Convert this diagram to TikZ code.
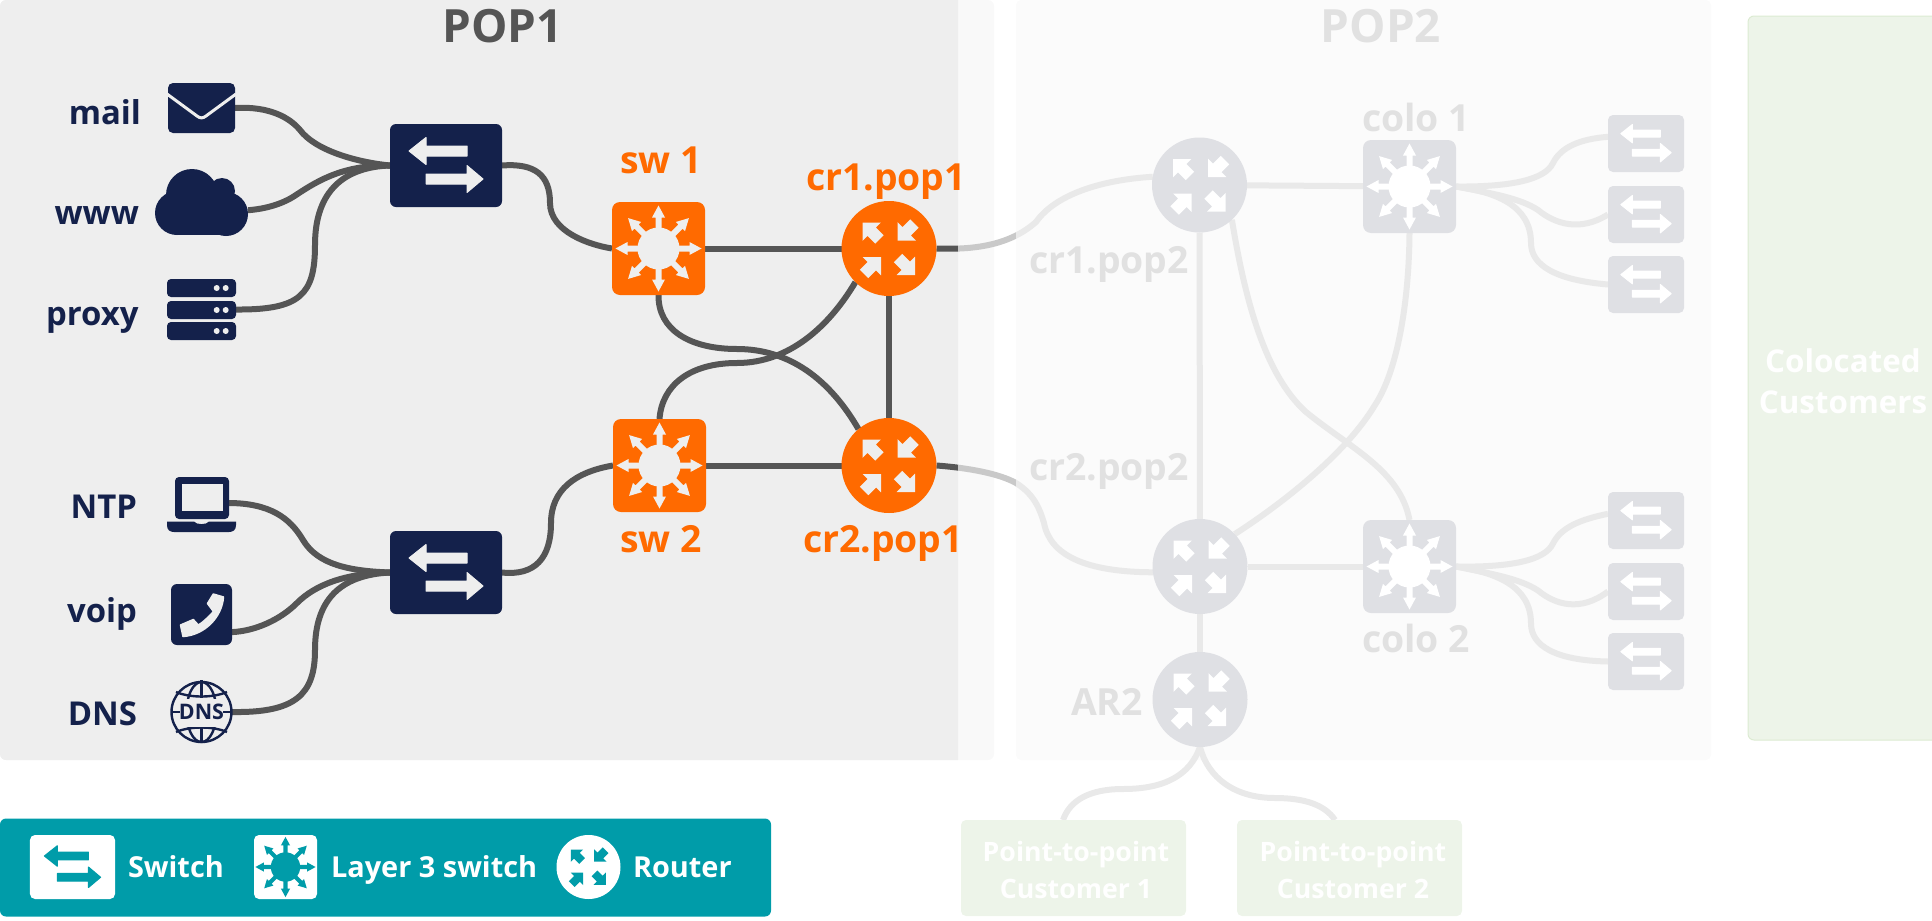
\documentclass[tikz,border=0pt]{standalone}
\usepackage{fontspec}
\setmainfont{Open Sans}
\definecolor{navy}{HTML}{14214B}
\definecolor{orng}{HTML}{FF6A00}
\definecolor{teal2}{HTML}{009CA9}
\definecolor{wdark}{HTML}{555555}
\definecolor{wmid}{HTML}{C9C9C9}
\definecolor{wlight}{HTML}{E9E9E9}
\definecolor{nlight}{HTML}{DFE0E4}
\definecolor{pone}{HTML}{EEEEEE}
\definecolor{poneb}{HTML}{F9F9F9}
\definecolor{ptwo}{HTML}{FBFBFB}
\definecolor{grn}{HTML}{EDF4E9}
\definecolor{grnb}{HTML}{DCEBD2}
\definecolor{lblgray}{HTML}{E1E1E1}
\definecolor{titlegray}{HTML}{555555}
\pgfdeclarelayer{panels}
\pgfdeclarelayer{wires}
\pgfsetlayers{panels,wires,main}
\tikzset{
  swbox/.style={rectangle,rounded corners=6bp,minimum width=112bp,minimum height=83bp,inner sep=0pt,outer sep=0pt,fill=navy},
  swsmall/.style={rectangle,rounded corners=5bp,minimum width=76bp,minimum height=57bp,inner sep=0pt,outer sep=0pt,fill=nlight},
  lthree/.style={rectangle,rounded corners=8bp,minimum width=93bp,minimum height=93bp,inner sep=0pt,outer sep=0pt,fill=#1},
  router/.style={circle,minimum size=95bp,inner sep=0pt,outer sep=0pt,fill=#1},
  icon/.style={rectangle,inner sep=0pt,outer sep=0pt,minimum width=#1},
  wiredark/.style={draw=wdark,line width=6bp},
  wirelight/.style={draw=wlight,line width=6bp},
  lbl/.style={font=\fontsize{33}{40}\selectfont\bfseries,text=navy,inner sep=0pt,outer sep=0pt,anchor=base east},
  olbl/.style={font=\fontsize{37.5}{42}\selectfont\bfseries,text=orng,inner sep=0pt,outer sep=0pt,anchor=base west},
  glbl/.style={font=\fontsize{37.5}{42}\selectfont\bfseries,text=lblgray,inner sep=0pt,outer sep=0pt,anchor=base west},
  ttl/.style={font=\fontsize{46}{50}\selectfont\bfseries,inner sep=0pt,outer sep=0pt,anchor=base},
  legtxt/.style={font=\fontsize{29}{36}\selectfont\bfseries,text=white,inner sep=0pt,outer sep=0pt,anchor=base west},
  custtxt/.style={font=\fontsize{26.8}{36.5}\selectfont\bfseries,text=white,inner sep=0pt,outer sep=0pt,align=center},
  custbox/.style={rectangle,rounded corners=5bp,fill=grn,minimum width=225bp,minimum height=96bp,inner sep=0pt,outer sep=0pt},
}
\newcommand\swglyph[3]{%
  \begin{scope}[shift={(#1.center)},scale=#2]
    \fill[#3,draw=#3,line width=1pt,line join=round] (-37,-14.5) -- (-20,-28) -- (-20,-19.5) -- (21,-19.5) -- (21,-9.5) -- (-20,-9.5) -- (-20,-1) -- cycle;
    \fill[#3,draw=#3,line width=1pt,line join=round] (37,13.5) -- (21,27) -- (21,18.5) -- (-20,18.5) -- (-20,8.5) -- (21,8.5) -- (21,0) -- cycle;
  \end{scope}}
\newcommand\rarrow[4]{\fill[#4,shift={(#1,#2)},rotate=#3] (0,0) -- (-13,13) -- (-13,6) -- (-24,6) -- (-24,-6) -- (-13,-6) -- (-13,-13) -- cycle;}
\newcommand\rglyph[3]{%
  \begin{scope}[shift={(#1.center)},scale=#2]
    \rarrow{-26.5}{-26}{135}{#3}
    \rarrow{8.5}{-8}{225}{#3}
    \rarrow{-8}{8.5}{45}{#3}
    \rarrow{26}{26.5}{-45}{#3}
  \end{scope}}
\newcommand\lglyph[3]{%
  \begin{scope}[shift={(#1.center)},scale=#2]
    \foreach \a in {0,45,...,315}{
      \fill[#3,rotate=\a] (43,0) -- (31,6.5) -- (31,3) -- (18,3) -- (18,-3) -- (31,-3) -- (31,-6.5) -- cycle;
    }
    \fill[#3] (0,0) circle (21);
  \end{scope}}
\newcommand\colofan[4]{%
  \draw[wirelight] (#1.east) .. controls (1510,187+#4) and (1545,180+#4) .. (1553,163+#4) .. controls (1561,147+#4) and (1580,139+#4) .. (#2.170);
  \draw[wirelight] (#1.east) .. controls (1490,193+#4) and (1520,198+#4) .. (1538,210+#4) .. controls (1555,224+#4) and (1580,232+#4) .. (#3.west);
}
\newcommand\colofanb[3]{%
  \draw[wirelight] (#1.east) .. controls (1495,192+#3) and (1531,205+#3) .. (1531,243+#3) .. controls (1531,265+#3) and (1555,280+#3) .. (#2.west);
}
\begin{document}
\begin{tikzpicture}[x=1bp,y=-1bp]
\useasboundingbox (0,0) rectangle (1932,921);
% ---- icons and nodes
\node[swbox] (s1) at (446,165.5) {};
\node[swbox] (s2) at (446,572.5) {};
\swglyph{s1}{1}{pone}
\swglyph{s2}{1}{pone}
\node[lthree=orng] (l3a) at (658.5,248.5) {};
\node[lthree=orng] (l3b) at (659.5,465.5) {};
\lglyph{l3a}{1}{pone}
\lglyph{l3b}{1}{pone}
\node[router=orng] (r1) at (889,248.5) {};
\node[router=orng] (r2) at (889,465.5) {};
\rglyph{r1}{1}{pone}
\rglyph{r2}{1}{pone}
\node[router=nlight] (c1) at (1199.5,185) {};
\node[router=nlight] (c2) at (1200,566.5) {};
\node[router=nlight] (ar) at (1200,699.5) {};
\rglyph{c1}{1}{white}
\rglyph{c2}{1}{white}
\rglyph{ar}{1}{white}
\node[lthree=nlight] (cl1) at (1409.5,186.5) {};
\node[lthree=nlight] (cl2) at (1409.5,566.5) {};
\lglyph{cl1}{1}{white}
\lglyph{cl2}{1}{white}
\node[swsmall] (a1) at (1646,143.5) {};
\node[swsmall] (a2) at (1646,214.5) {};
\node[swsmall] (a3) at (1646,284.5) {};
\node[swsmall] (b1) at (1646,520.5) {};
\node[swsmall] (b2) at (1646,591.5) {};
\node[swsmall] (b3) at (1646,661.5) {};
\foreach \n in {a1,a2,a3,b1,b2,b3}{\swglyph{\n}{0.68}{white}}
% mail
\node[rectangle,rounded corners=5bp,fill=navy,minimum width=67bp,minimum height=50bp,inner sep=0pt,outer sep=0pt] (mailic) at (201.5,108) {};
\draw[pone,line width=3bp,line join=round,line cap=butt] (167,94) -- (197,116) .. controls (200,118.5) and (203,118.5) .. (206,116) -- (236,94);
% cloud
\node[icon=93bp,minimum height=66bp] (cloud) at (201.5,202) {};
\fill[navy] (192,195) circle (26);
\fill[navy] (177,213) circle (22);
\fill[navy] (226,214) circle (22);
\fill[navy] (222,191) circle (13);
\fill[navy] (177,200) rectangle (226,235);
% proxy
\node[icon=69bp,minimum height=61bp] (proxyic) at (201.5,309.5) {};
\foreach \y in {279,301,322}{
  \fill[navy,rounded corners=4bp] (167,\y) rectangle (236,\y+18);
  \fill[pone] (216.7,\y+9) circle (3);
  \fill[pone] (225.7,\y+9) circle (3);
}
% laptop
\node[icon=69bp,minimum height=55bp] (laptop) at (201.5,504.5) {};
\coordinate (lapout) at (228,503);
\fill[navy,rounded corners=4bp] (175,477) rectangle (229,519);
\fill[pone] (181.7,484) rectangle (222.7,511);
\fill[navy] (167,521.5) -- (194,521.5) .. controls (196,525) and (207,525) .. (209,521.5) -- (236,521.5) -- (236,525) .. controls (236,530) and (233,532) .. (229,532) -- (174,532) .. controls (170,532) and (167,530) .. (167,525) -- cycle;
% phone
\node[rectangle,rounded corners=6bp,fill=navy,minimum width=61bp,minimum height=61bp,inner sep=0pt,outer sep=0pt] (phone) at (201.5,614.5) {};
\fill[pone,draw=pone,line width=1.5bp,line join=round] (213.3,594) -- (223.5,597) .. controls (222,617) and (205,635) .. (183,636.5) -- (180.5,625) -- (193.3,619.5) -- (198.3,625) .. controls (205,621) and (210,615) .. (213.5,611.5) -- (207.5,603.5) -- cycle;
% DNS globe
\node[circle,minimum size=61bp,inner sep=0pt,outer sep=0pt] (globe) at (201.5,712) {};
\begin{scope}[navy,line width=2.4bp]
  \draw (201.5,712) circle (30);
  \begin{scope}
    \clip (165,675) rectangle (238,698);
    \draw (201.5,712) ellipse (15 and 30);
    \draw (201.5,680) -- (201.5,698);
    \draw (176,692) .. controls (190,698) and (213,698) .. (227,692);
  \end{scope}
  \begin{scope}
    \clip (165,727) rectangle (238,750);
    \draw (201.5,712) ellipse (15 and 30);
    \draw (201.5,727) -- (201.5,742);
    \draw (176,732) .. controls (190,726) and (213,726) .. (227,732);
  \end{scope}
  \draw (171,712) -- (180,712);
  \draw (223,712) -- (232,712);
\end{scope}
\node[font=\fontsize{21.5}{24}\selectfont\bfseries,text=navy,inner sep=0pt] (dnstxt) at (201.5,712) {DNS};
% boxes
\node[custbox] (p1) at (1073.5,868) {};
\node[custbox] (p2) at (1349.5,868) {};
\node[custtxt] (p1t) at (1076,870) {Point-to-point\\Customer 1};
\node[custtxt] (p2t) at (1353,870) {Point-to-point\\Customer 2};
% labels
\node[lbl] (tmail) at (141,124) {mail};
\node[lbl] (twww) at (139,224) {www};
\node[lbl] (tproxy) at (138.5,325) {proxy};
\node[lbl] (tntp) at (137,518) {NTP};
\node[lbl] (tvoip) at (137,622) {voip};
\node[lbl] (tdns) at (137,725) {DNS};
\node[olbl] (tsw1) at (620,173) {sw 1};
\node[olbl] (tsw2) at (620,552) {sw 2};
\node[olbl] (tcr1) at (806,190) {cr1.pop1};
\node[olbl] (tcr2) at (803,552) {cr2.pop1};
\node[glbl] (tc1) at (1029,273) {cr1.pop2};
\node[glbl] (tc2) at (1029,480) {cr2.pop2};
\node[glbl] (tcolo1) at (1362,131) {colo 1};
\node[glbl] (tcolo2) at (1362,652) {colo 2};
\node[glbl] (tar) at (1071,715) {AR2};
\node[ttl,text=titlegray] (pop1) at (502.5,42) {POP1};
\node[ttl,text=lblgray] (pop2) at (1381,42) {POP2};
\node[font=\fontsize{31.5}{41}\selectfont\bfseries,text=white,inner sep=0pt,align=center] (colo) at (1843,381) {Colocated\\Customers};
% legend
\node[rectangle,rounded corners=5bp,fill=white,minimum width=85bp,minimum height=64bp,inner sep=0pt,outer sep=0pt] (lgs) at (72.5,867) {};
\node[rectangle,rounded corners=5bp,fill=white,minimum width=63bp,minimum height=64bp,inner sep=0pt,outer sep=0pt] (lgl) at (285.5,867) {};
\node[circle,fill=white,minimum size=64bp,inner sep=0pt,outer sep=0pt] (lgr) at (588.5,867) {};
\swglyph{lgs}{0.76}{teal2}
\lglyph{lgl}{0.7}{teal2}
\rglyph{lgr}{0.67}{teal2}
\node[legtxt] (tlgs) at (128,877) {Switch};
\node[legtxt] (tlgl) at (331,877) {Layer 3 switch};
\node[legtxt] (tlgr) at (633,877) {Router};
% ---- wires
\begin{pgfonlayer}{wires}
  \draw[wiredark] (mailic.east) .. controls (270,106) and (290,118) .. (300,130) .. controls (315,150) and (355,162) .. (s1.west);
  \draw[wiredark] (cloud.-10) .. controls (265,209) and (283,204) .. (296,195) .. controls (320,179) and (345,165) .. (s1.west);
  \draw[wiredark] (proxyic.east) .. controls (300,310) and (315,295) .. (315,245) .. controls (315,190) and (345,167) .. (s1.west);
  \draw[wiredark] (s1.east) .. controls (535,163) and (550,175) .. (550,203) .. controls (550,232) and (590,245) .. (l3a.west);
  \draw[wiredark] (lapout) .. controls (270,503) and (290,518) .. (303,540) .. controls (318,565) and (350,571) .. (s2.west);
  \draw[wiredark] (phone.-30) .. controls (255,631) and (280,620) .. (297,603) .. controls (315,585) and (345,573) .. (s2.west);
  \draw[wiredark] (globe.east) .. controls (295,713) and (315,695) .. (315,650) .. controls (315,600) and (340,575) .. (s2.west);
  \draw[wiredark] (s2.east) .. controls (535,576) and (551,558) .. (551,523) .. controls (551,490) and (575,472) .. (l3b.west);
  \draw[wiredark] (l3a) -- (r1);
  \draw[wiredark] (l3b) -- (r2);
  \draw[wiredark] (r1) -- (r2);
  \draw[wiredark] (l3a.south) .. controls (658,330) and (690,349) .. (737,349) .. controls (790,349) and (830,380) .. (r2.130);
  \draw[wiredark] (l3b.north) .. controls (662,385) and (690,363) .. (737,363) .. controls (790,363) and (830,325) .. (r1.225);
  % links crossing the fade
  \foreach \xa/\xb/\col in {900/958/wdark,958/1016/wmid,1016/1300/wlight}{
    \begin{scope}
      \clip (\xa,100) rectangle (\xb,650);
      \draw[draw=\col,line width=6bp] (r1.east) .. controls (975,250) and (1010,245) .. (1036,222) .. controls (1055,195) and (1100,180) .. (c1.170);
      \draw[draw=\col,line width=6bp] (r2.east) .. controls (970,468) and (1000,474) .. (1016,483) .. controls (1035,495) and (1040,510) .. (1044,523) .. controls (1050,555) and (1085,572) .. (c2.187);
    \end{scope}
  }
  \draw[wirelight] (c1) -- (c2);
  \draw[wirelight] (c2) -- (ar);
  \draw[wirelight] (c1) -- (cl1);
  \draw[wirelight] (c2) -- (cl2);
  \draw[wirelight] (c1.-47) .. controls (1245,300) and (1265,375) .. (1306,412) .. controls (1350,448) and (1400,470) .. (cl2.north);
  \draw[wirelight] (cl1.south) .. controls (1409,300) and (1398,370) .. (1375,405) .. controls (1345,455) and (1280,505) .. (c2.43);
  \colofan{cl1}{a1}{a2}{0}
  \colofanb{cl1}{a3}{0}
  \colofan{cl2}{b1}{b2}{380.5}
  \colofanb{cl2}{b3}{380.5}
  \draw[wirelight] (ar.south) .. controls (1190,775) and (1165,789) .. (1123,789) .. controls (1090,789) and (1070,800) .. (p1.north -| 1063,0);
  \draw[wirelight] (ar.south) .. controls (1208,778) and (1235,798) .. (1275,798) .. controls (1305,798) and (1325,805) .. (p2.north -| 1335,0);
\end{pgfonlayer}
% ---- panels
\begin{pgfonlayer}{panels}
  \fill[poneb,rounded corners=6bp] (0,0) rectangle (994,760);
  \fill[pone] (958,0) [rounded corners=6bp] -- (0,0) -- (0,760) [sharp corners] -- (958,760) -- cycle;
  \fill[ptwo,rounded corners=5bp] (1016,0) rectangle (1711,760);
  \fill[grn,rounded corners=6bp,draw=grnb,line width=1bp] (1940,16) -- (1748,16) -- (1748,740) -- (1940,740) -- cycle;
  \fill[teal2,rounded corners=6bp] (0,818.5) rectangle (771,916.5);
\end{pgfonlayer}
\end{tikzpicture}
\end{document}
